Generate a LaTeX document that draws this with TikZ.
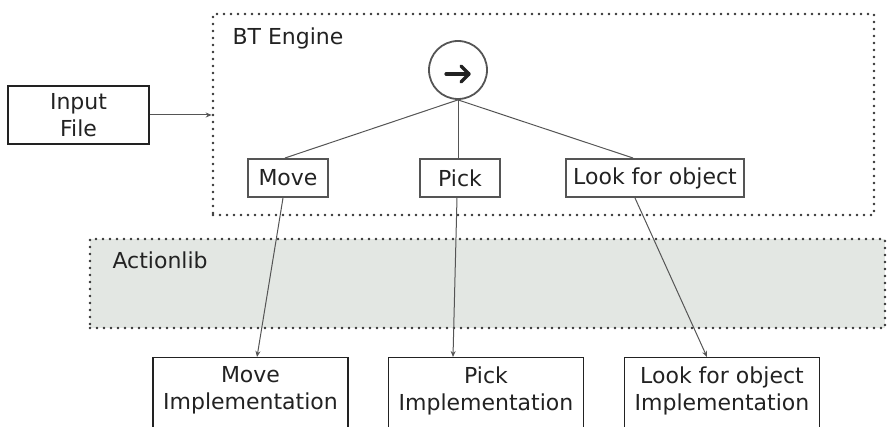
\documentclass[tikz,border=0pt]{standalone}
\usepackage{fontspec}
\setmainfont{DejaVu Sans}
\usetikzlibrary{arrows.meta,calc}
\definecolor{ink}{HTML}{222222}
\definecolor{edge}{HTML}{555555}
\definecolor{dots}{HTML}{333333}
\definecolor{libfill}{HTML}{E3E7E3}
\tikzset{
  every node/.style={text=ink, font=\fontsize{22}{27}\selectfont},
  region/.style={draw=dots, line width=2.6pt, line cap=round,
    dash pattern=on 0pt off 7pt, inner sep=0pt},
  leaf/.style={draw=edge, line width=1.2pt, minimum height=38pt, inner sep=0pt},
  leafthick/.style={leaf, line width=2pt},
  implbox/.style={draw=ink, line width=1.1pt, align=center, anchor=north,
    minimum width=195pt, inner xsep=0pt, inner ysep=9pt, text depth=60pt},
  wire/.style={draw=edge, line width=1pt},
  feed/.style={draw=edge, line width=1pt, -{Stealth[length=6pt,width=5pt]}},
  seqmark/.style={draw=ink, line width=3.2pt, line cap=round, line join=round},
}
\begin{document}
\begin{tikzpicture}[x=1pt,y=-1pt]
\useasboundingbox (0,0) rectangle (887,427);

% containers
\node[region, fill=libfill, minimum width=795pt, minimum height=89pt] (al) at (487.5,283.5) {};
\node[region, minimum width=661pt, minimum height=201pt] (bt) at (543.5,114.5) {};
\node[anchor=base west] (btlabel) at (229,45) {BT Engine};
\node[anchor=base west] (allabel) at (109,269) {Actionlib};

% input file
\node[draw=ink, line width=2pt, minimum width=141pt, minimum height=58pt,
  align=center, inner sep=0pt] (in) at (78.5,115) {Input\\File};
\draw[feed] (in.east) -- (bt.west |- in.east);

% sequence node (circle with a right arrow) and its children
\node[circle, draw=edge, line width=1.8pt, minimum size=58pt, inner sep=0pt] (seq) at (458,70) {};
\draw[seqmark] ($(seq.center)+(-12,4)$) -- ($(seq.center)+(11,4)$);
\draw[seqmark] ($(seq.center)+(3,-4)$) -- ($(seq.center)+(11,4)$) -- ($(seq.center)+(3,12)$);
\node[leafthick, minimum width=80pt] (mv) at (288,178) {Move};
\node[leaf, minimum width=80pt] (pk) at (460,178) {Pick};
\node[leafthick, minimum width=178pt] (lk) at (655,178) {Look for object};

\draw[wire] (seq.south) -- ($(mv.north)+(-3,0)$);
\draw[wire] (seq.south) -- ($(pk.north)+(-2,0)$);
\draw[wire] (seq.south) -- ($(lk.north)+(-22,0)$);

% implementations
\node[implbox] (mvi) at (250.5,357) {Move\\Implementation};
\node[implbox] (pki) at (486,357) {Pick\\Implementation};
\node[implbox] (lki) at (722,357) {Look for object\\Implementation};

\draw[feed] ($(mv.south)+(-5,0)$) -- ($(mvi.north)+(6.5,0)$);
\draw[feed] ($(pk.south)+(-3,0)$) -- ($(pki.north)+(-33,0)$);
\draw[feed] ($(lk.south)+(-20,0)$) -- ($(lki.north)+(-15,0)$);
\end{tikzpicture}
\end{document}
